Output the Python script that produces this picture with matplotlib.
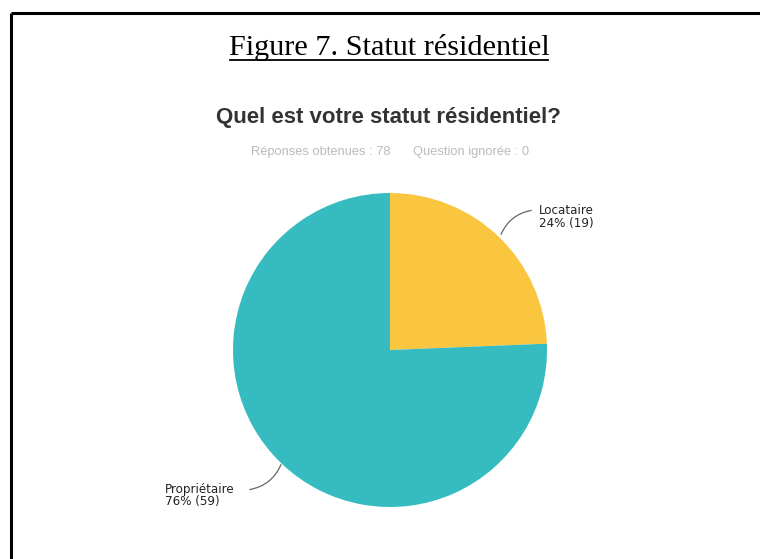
import matplotlib.pyplot as plt
from matplotlib.patches import FancyArrowPatch

# données
categories = ["Locataire", "Propriétaire"]
nombres = [19, 59]
pourcentages = [24, 76]
couleurs = ["#FBC63F", "#36BCC0"]

titre_figure = "Figure 7. Statut résidentiel"
question = "Quel est votre statut résidentiel?"
reponses = "Réponses obtenues : 78"
ignorees = "Question ignorée : 0"

W, H = 760, 559
fig = plt.figure(figsize=(W / 100, H / 100), dpi=100)
ax = fig.add_axes([0, 0, 1, 1])

# camembert (axe y inversé -> startangle 270 + counterclock=True = sens horaire depuis midi)
ax.pie(nombres, colors=couleurs, startangle=270, counterclock=True,
       center=(390, 350), radius=157, frame=True,
       wedgeprops=dict(linewidth=0))
ax.set_xlim(0, W)
ax.set_ylim(H, 0)
ax.set_aspect("equal")
ax.axis("off")

# cadre (haut + gauche)
ax.plot([11, W + 5], [13, 13], color="black", lw=2.2, solid_capstyle="butt")
ax.plot([11, 11], [13, H + 5], color="black", lw=2.2, solid_capstyle="butt")

# titre souligné
ax.text(389, 55, titre_figure, family="Liberation Serif", fontsize=21.8,
        ha="center", va="baseline", color="black")
ax.plot([230, 548], [59.5, 59.5], color="black", lw=1.3)

ax.text(388, 117, question, family="Liberation Sans", fontweight="bold",
        fontsize=16, ha="center", va="center", color="#333333")
ax.text(321, 152, reponses, family="Liberation Sans", fontsize=9.3,
        ha="center", va="center", color="#bbbbbb")
ax.text(471, 152, ignorees, family="Liberation Sans", fontsize=9.3,
        ha="center", va="center", color="#bbbbbb")

# étiquettes
ax.text(539, 211, categories[0], family="DejaVu Sans", fontsize=8.6,
        ha="left", va="center", color="#222222")
ax.text(539, 224, f"{pourcentages[0]}% ({nombres[0]})", family="DejaVu Sans",
        fontsize=8.6, ha="left", va="center", color="#222222")
ax.add_patch(FancyArrowPatch((500, 237), (534, 210), arrowstyle="-",
                             connectionstyle="arc3,rad=-0.3",
                             color="#666666", lw=0.9))

ax.text(165, 489, categories[1], family="DejaVu Sans", fontsize=8.6,
        ha="left", va="center", color="#222222")
ax.text(165, 502, f"{pourcentages[1]}% ({nombres[1]})", family="DejaVu Sans",
        fontsize=8.6, ha="left", va="center", color="#222222")
ax.add_patch(FancyArrowPatch((247, 490), (282, 462), arrowstyle="-",
                             connectionstyle="arc3,rad=0.3",
                             color="#666666", lw=0.9))

fig.savefig("out.png", dpi=100)
